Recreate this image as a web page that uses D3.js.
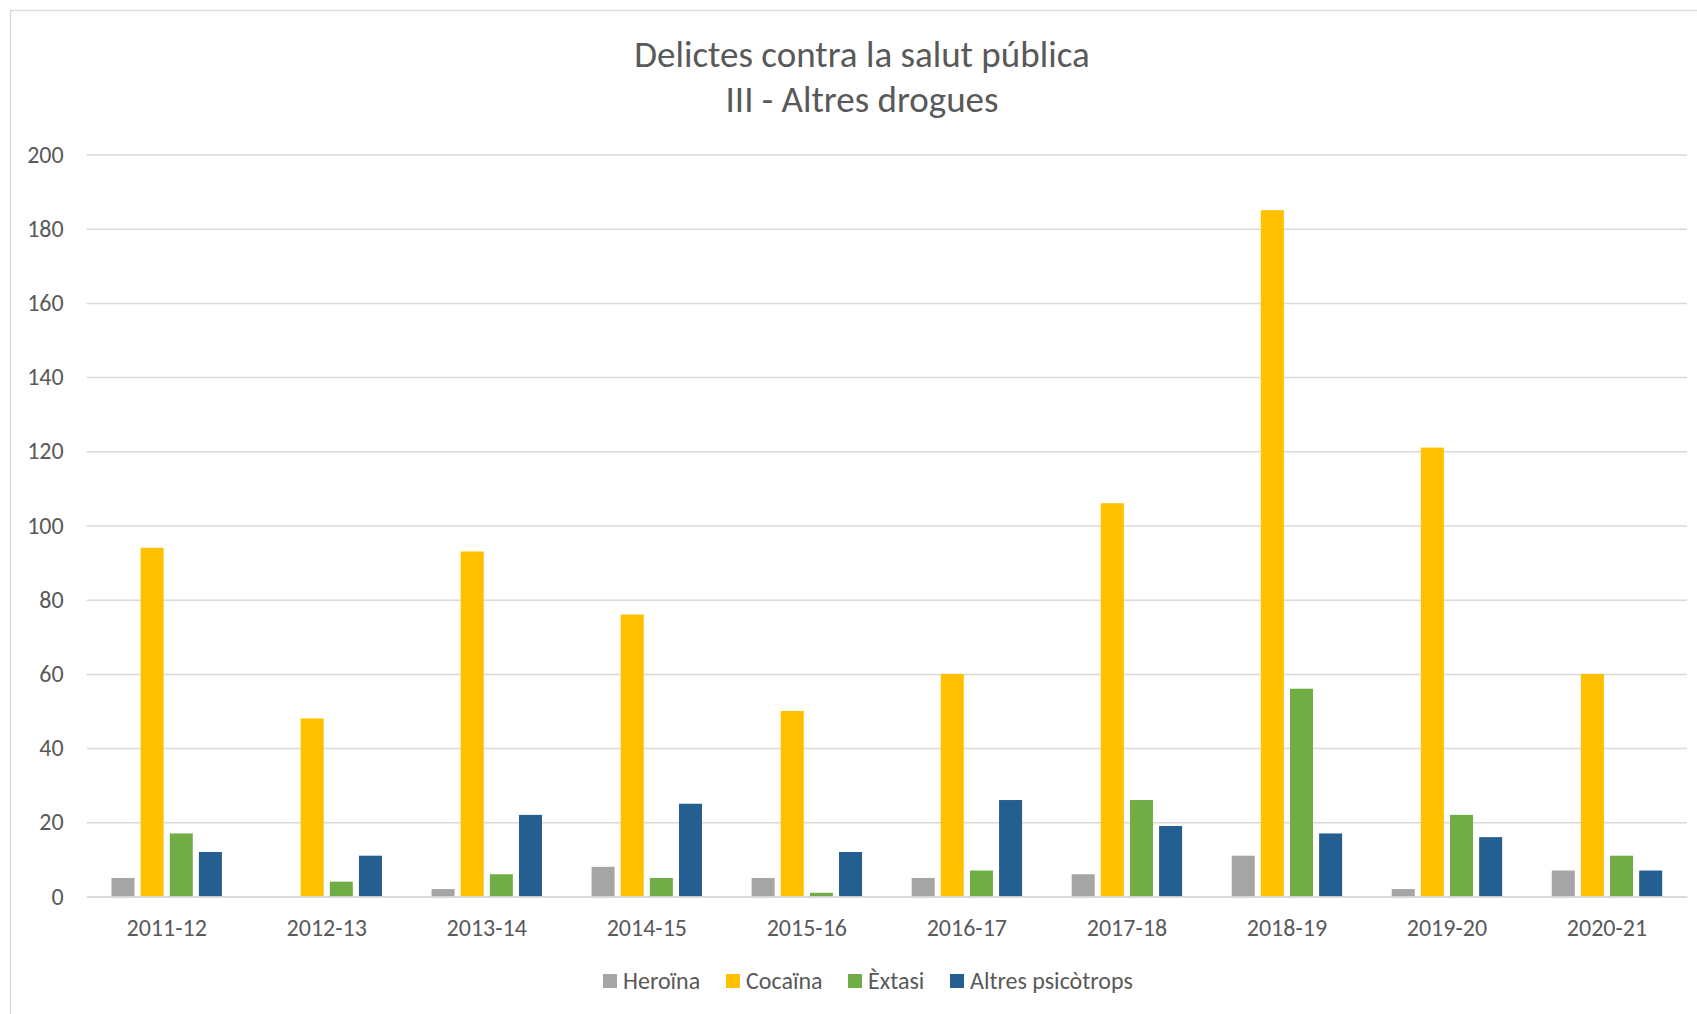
<!DOCTYPE html>
<html lang="ca">
<head>
  <meta charset="UTF-8">
  <title>Delictes contra la salut pública - III - Altres drogues</title>
  <script src="https://d3js.org/d3.v7.min.js"></script>
  <style>
    body { margin: 0; background: #fff; }
    text { font-family: Carlito, Calibri, "Liberation Sans Narrow", "DejaVu Sans Condensed", "Open Sans", sans-serif; fill: #595959; }
  </style>
</head>
<body>
  <div id="chart"></div>

  <script>
    const cursos = ["2011-12", "2012-13", "2013-14", "2014-15", "2015-16", "2016-17", "2017-18", "2018-19", "2019-20", "2020-21"];
    const drogues = ["Heroïna", "Cocaïna", "Èxtasi", "Altres psicòtrops"];
    const heroina = [5, 0, 2, 8, 5, 5, 6, 11, 2, 7];
    const cocaina = [94, 48, 93, 76, 50, 60, 106, 185, 121, 60];
    const extasi = [17, 4, 6, 5, 1, 7, 26, 56, 22, 11];
    const altres = [12, 11, 22, 25, 12, 26, 19, 17, 16, 7];
    const yTicks = [0, 20, 40, 60, 80, 100, 120, 140, 160, 180, 200];
    const colors = ["#A5A5A5", "#FFC000", "#70AD47", "#255E91"];

    const series = [heroina, cocaina, extasi, altres];
    const data = cursos.map((c, i) => ({ curs: c, vals: series.map(s => s[i]) }));

    const W = 1697, H = 1014;
    const plot = { left: 86.7, right: 1687, top: 154.5, bottom: 896.5 };

    const svg = d3.select("#chart")
                  .append("svg")
                  .attr("width", W)
                  .attr("height", H);

    // marc del gràfic
    svg.append("rect")
       .attr("x", 10.5).attr("y", 10.5)
       .attr("width", 1720).attr("height", 1030)
       .attr("fill", "none")
       .attr("stroke", "#D9D9D9")
       .attr("stroke-width", 1.3);

    // títol
    const title = svg.append("text")
       .attr("x", 862)
       .attr("text-anchor", "middle")
       .style("font-size", "37px");
    title.append("tspan").attr("x", 862).attr("y", 67).text("Delictes contra la salut pública");
    title.append("tspan").attr("x", 862).attr("y", 112).text("III - Altres drogues");

    const x0 = d3.scaleBand()
                 .domain(cursos)
                 .range([plot.left, plot.right])
                 .paddingInner(0.31)
                 .paddingOuter(0.155);

    const x1 = d3.scaleBand()
                 .domain(d3.range(drogues.length))
                 .range([0, x0.bandwidth()])
                 .paddingInner(0.21)
                 .paddingOuter(0);

    const y = d3.scaleLinear()
                .domain([0, 200])
                .range([plot.bottom, plot.top]);

    // línies de graella
    svg.append("g")
       .attr("transform", `translate(${plot.left},0)`)
       .call(d3.axisLeft(y).tickValues(yTicks).tickSize(-(plot.right - plot.left)).tickPadding(23))
       .call(g => g.select(".domain").remove())
       .call(g => g.selectAll(".tick line").attr("stroke", "#D9D9D9").attr("stroke-width", 1.5))
       .call(g => g.selectAll(".tick text")
                   .attr("fill", "#595959")
                   .style("font-size", "24px")
                   .attr("font-family", null));

    // barres
    const groups = svg.selectAll(".grup")
       .data(data)
       .enter()
       .append("g")
       .attr("class", "grup")
       .attr("transform", d => `translate(${x0(d.curs)},0)`);

    groups.selectAll("rect")
       .data(d => d.vals.map((v, k) => ({ k, v })))
       .enter()
       .append("rect")
       .attr("x", d => x1(d.k))
       .attr("y", d => y(d.v))
       .attr("width", x1.bandwidth())
       .attr("height", d => y(0) - y(d.v))
       .attr("fill", d => colors[d.k]);

    // eix X
    svg.append("g")
       .attr("transform", `translate(0,${plot.bottom})`)
       .call(d3.axisBottom(x0).tickSize(0).tickPadding(22))
       .call(g => g.select(".domain").attr("stroke", "#D9D9D9").attr("stroke-width", 1.5))
       .call(g => g.selectAll(".tick text")
                   .attr("fill", "#595959")
                   .style("font-size", "24px")
                   .attr("font-family", null));

    // llegenda
    const legendX = [603, 726, 848, 950];
    const legend = svg.append("g");
    drogues.forEach((name, k) => {
      legend.append("rect")
            .attr("x", legendX[k]).attr("y", 974)
            .attr("width", 14).attr("height", 14)
            .attr("fill", colors[k]);
      legend.append("text")
            .attr("x", legendX[k] + 20).attr("y", 989)
            .style("font-size", "24px")
            .text(name);
    });
  </script>
</body>
</html>
